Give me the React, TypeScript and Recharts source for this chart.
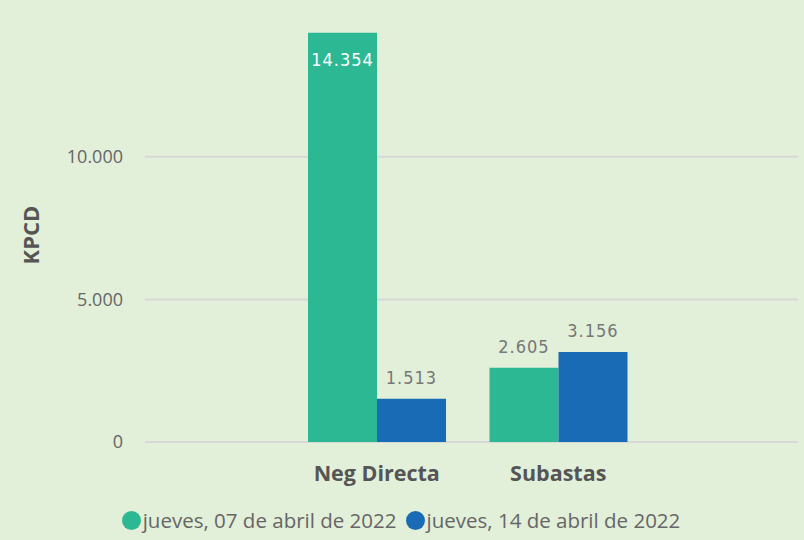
import React from "react";
import {
  BarChart,
  Bar,
  XAxis,
  YAxis,
  CartesianGrid,
  Legend,
  LabelList,
} from "recharts";

const categories = ["Neg Directa", "Subastas"];
const seriesNames = ["jueves, 07 de abril de 2022", "jueves, 14 de abril de 2022"];
const firstWeek = [14354, 2605];
const secondWeek = [1513, 3156];
const yTicks = [0, 5000, 10000];

const GREEN = "#2db894";
const BLUE = "#1a6bb5";
const BG = "#e2efd9";

const data = categories.map((name, i) => ({
  name,
  a: firstWeek[i],
  b: secondWeek[i],
}));

// Spanish style thousands separator
function fmt(v: number): string {
  return String(Math.round(v)).replace(/\B(?=(\d{3})+(?!\d))/g, ".");
}

function ValueLabel(props: { x?: number; y?: number; width?: number; height?: number; value?: number }) {
  const { x = 0, y = 0, width = 0, height = 0, value = 0 } = props;
  // tall bars get the label inside, in white
  const inside = height > 300;
  return (
    <text
      x={x + width / 2}
      y={inside ? y + 33 : y - 15}
      textAnchor="middle"
      fill={inside ? "#ffffff" : "#777777"}
      fontSize={18}
      fontFamily="'DejaVu Sans Condensed', 'DejaVu Sans', sans-serif"
      letterSpacing={1}
    >
      {fmt(value)}
    </text>
  );
}

function CategoryTick(props: { x?: number; y?: number; payload?: { value: string } }) {
  const { x = 0, y = 0, payload } = props;
  return (
    <text
      x={x}
      y={y + 31}
      textAnchor="middle"
      fill="#555555"
      fontSize={21.5}
      fontWeight={700}
      fontFamily="'Open Sans', sans-serif"
    >
      {payload?.value}
    </text>
  );
}

function AxisTitle(props: { viewBox?: { x: number; y: number; width: number; height: number } }) {
  const vb = props.viewBox ?? { x: 0, y: 0, width: 0, height: 0 };
  const cx = vb.x + 30;
  const cy = vb.y + vb.height / 2 + 14;
  return (
    <text
      x={cx}
      y={cy}
      transform={`rotate(-90, ${cx}, ${cy})`}
      textAnchor="middle"
      dominantBaseline="central"
      fill="#555555"
      fontSize={22}
      fontWeight={700}
      fontFamily="'Open Sans', sans-serif"
    >
      KPCD
    </text>
  );
}

function LegendContent() {
  const colors = [GREEN, BLUE];
  return (
    <div
      style={{
        display: "flex",
        justifyContent: "center",
        alignItems: "center",
        gap: 9,
        fontFamily: "'Open Sans', sans-serif",
        fontSize: 20.5,
        lineHeight: "28px",
        height: 28,
        color: "#666666",
        paddingLeft: 4,
      }}
    >
      {seriesNames.map((s, i) => (
        <span key={s} style={{ display: "flex", alignItems: "center" }}>
          <span
            style={{
              display: "inline-block",
              width: 19,
              height: 19,
              borderRadius: "50%",
              background: colors[i],
              marginRight: 2,
            }}
          />
          {s}
        </span>
      ))}
    </div>
  );
}

export default function App() {
  return (
    <div style={{ position: "absolute", left: 0, top: 0, width: 804, height: 540, background: BG }}>
      <BarChart
        width={804}
        height={540}
        data={data}
        margin={{ top: 0, right: 6, left: 0, bottom: 6 }}
        barCategoryGap={22}
        barGap={0}
      >
        <CartesianGrid vertical={false} stroke="#d6d9d6" strokeWidth={2} syncWithTicks />
        <XAxis
          dataKey="name"
          axisLine={false}
          tickLine={false}
          tick={<CategoryTick />}
          height={64}
          padding={{ left: 141, right: 149 }}
          interval={0}
        />
        <YAxis
          width={145}
          domain={[0, 15500]}
          ticks={yTicks}
          axisLine={false}
          tickLine={false}
          tickFormatter={fmt}
          tick={{ fill: "#666666", fontSize: 18, fontFamily: "'Open Sans', sans-serif" }}
          tickMargin={16}
          label={<AxisTitle />}
        />
        <Legend verticalAlign="bottom" content={<LegendContent />} />
        <Bar dataKey="a" name={seriesNames[0]} fill={GREEN} isAnimationActive={false}>
          <LabelList dataKey="a" content={<ValueLabel />} />
        </Bar>
        <Bar dataKey="b" name={seriesNames[1]} fill={BLUE} isAnimationActive={false}>
          <LabelList dataKey="b" content={<ValueLabel />} />
        </Bar>
      </BarChart>
    </div>
  );
}
